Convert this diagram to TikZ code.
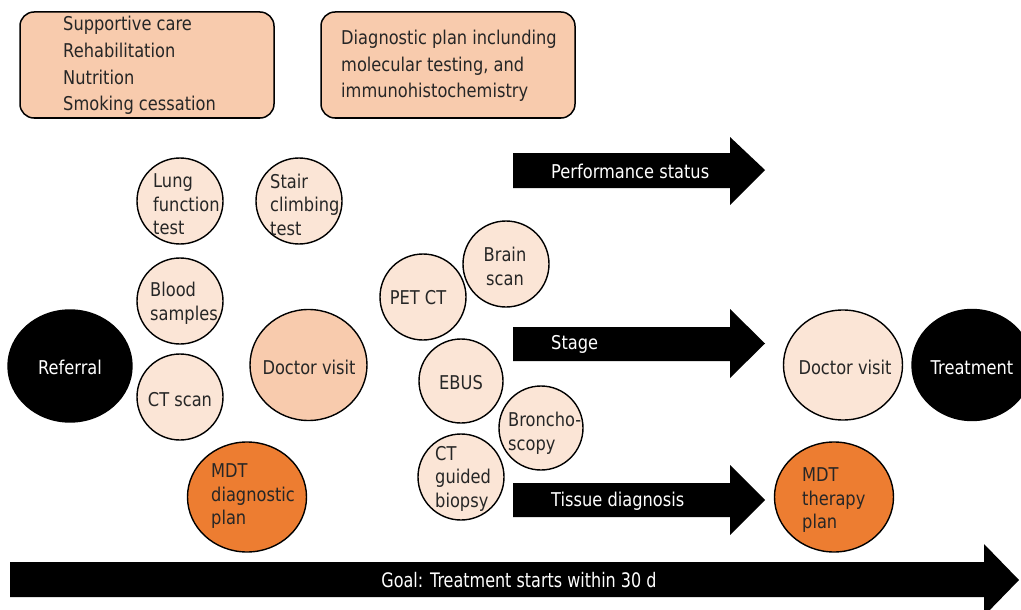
\documentclass[tikz,border=0pt]{standalone}
\usepackage{fontspec}
\setmainfont{DejaVu Sans}[FakeStretch=0.855]
\usetikzlibrary{shapes.geometric}
\definecolor{peach}{HTML}{F8CBAD}
\definecolor{lightpeach}{HTML}{FBE5D6}
\definecolor{orangeA}{HTML}{ED7D31}
\definecolor{txtgray}{HTML}{262626}
\begin{document}
\begin{tikzpicture}[x=1pt,y=-1pt,
  txt/.style={font=\fontsize{19}{23.5}\selectfont, text=txtgray, inner sep=0pt, align=left, yshift=-1.5pt},
  ltxt/.style={txt, anchor=west},
  wtxt/.style={txt, text=white},
  boxtxt/.style={font=\fontsize{19}{26.7}\selectfont, text=txtgray, align=left, anchor=west, inner sep=0pt},
  infobox/.style={draw, line width=1.5pt, rounded corners=14pt, fill=peach, minimum width=254pt, minimum height=106pt, inner sep=0pt},
  smallc/.style={circle, draw, line width=1.4pt, fill=lightpeach, minimum size=86pt, inner sep=0pt},
  bigell/.style={ellipse, draw, line width=1.4pt, inner sep=0pt, minimum width=119pt, minimum height=110pt},
  arrowtxt/.style={font=\fontsize{19}{20}\selectfont, text=white, anchor=west, inner sep=0pt, yshift=-1pt},
  blockarrow/.style={fill=black}
]
\useasboundingbox (0,0) rectangle (1021,610);

% info boxes
\node[infobox] (care) at (147,65) {};
\node[boxtxt] (caretxt) at (63,65.5) {Supportive care\\Rehabilitation\\Nutrition\\Smoking cessation};
\node[infobox] (plan) at (448,65) {};
\node[boxtxt, font=\fontsize{19}{26.5}\selectfont] (plantxt) at (341,66) {Diagnostic plan inclunding\\molecular testing, and\\immunohistochemistry};

% block arrows
\fill[blockarrow] (513,153) -- (730,153) -- (730,137) -- (765,170) -- (730,205) -- (730,188) -- (513,188) -- cycle;
\node[arrowtxt] (perf) at (551,170) {Performance status};
\fill[blockarrow] (513,327) -- (730,327) -- (730,309) -- (765,343.5) -- (730,378) -- (730,361) -- (513,361) -- cycle;
\node[arrowtxt] (stage) at (551,343) {Stage};
\fill[blockarrow] (513,483) -- (730,483) -- (730,465) -- (765,500) -- (730,535) -- (730,517) -- (513,517) -- cycle;
\node[arrowtxt] (tissue) at (551,500) {Tissue diagnosis};
\fill[blockarrow] (10,562) -- (984,562) -- (984,544) -- (1019,580) -- (984,616) -- (984,597) -- (10,597) -- cycle;
\node[inner sep=0pt, text=white, font=\fontsize{20}{24}\selectfont, yshift=-1pt] (goal) at (519,579) {\scalebox{0.936}[1]{Goal: Treatment starts within 30 d}};

% left group
\node[bigell, fill=black, minimum width=124pt, minimum height=112pt] (referral) at (70,366) {};
\node[wtxt] (referraltxt) at (70,366) {Referral};
\node[smallc] (lung) at (180,201) {};
\node[ltxt] (lungtxt) at (153,203) {Lung\\function\\test};
\node[smallc] (stair) at (299,201) {};
\node[ltxt] (stairtxt) at (270,203) {Stair\\climbing\\test};
\node[smallc] (blood) at (180,301) {};
\node[ltxt] (bloodtxt) at (150,302) {Blood\\samples};
\node[smallc] (ctscan) at (180,397) {};
\node[txt] (ctscantxt) at (180,398) {CT scan};
\node[bigell, fill=peach, minimum width=117pt, minimum height=111pt] (doc1) at (308.5,365) {};
\node[txt] (doc1txt) at (309,366) {Doctor visit};
\node[bigell, fill=orangeA] (mdt1) at (247,497) {};
\node[ltxt] (mdt1txt) at (211,495) {MDT\\diagnostic\\plan};

% middle group
\node[smallc] (pet) at (423,297) {};
\node[txt] (pettxt) at (418,296) {PET CT};
\node[smallc] (brain) at (506,264) {};
\node[txt, align=center] (braintxt) at (505,265) {Brain\\scan};
\node[smallc, minimum size=84pt] (ebus) at (461,381) {};
\node[txt] (ebustxt) at (461,381) {EBUS};
\node[smallc, minimum size=84pt] (broncho) at (541,428) {};
\node[ltxt] (bronchotxt) at (508,432) {Broncho-\\scopy};
\node[smallc] (ctbiopsy) at (461,477) {};
\node[ltxt] (ctbiopsytxt) at (435,477) {CT\\guided\\biopsy};

% right group
\node[bigell, fill=lightpeach, minimum height=110pt] (doc2) at (843,365) {};
\node[txt] (doc2txt) at (845,366) {Doctor visit};
\node[bigell, fill=black, minimum width=120pt, minimum height=111pt] (treat) at (972,365) {};
\node[wtxt] (treattxt) at (972,366) {Treatment};
\node[bigell, fill=orangeA] (mdt2) at (834,497) {};
\node[ltxt] (mdt2txt) at (802,499) {MDT\\therapy\\plan};
\end{tikzpicture}
\end{document}
